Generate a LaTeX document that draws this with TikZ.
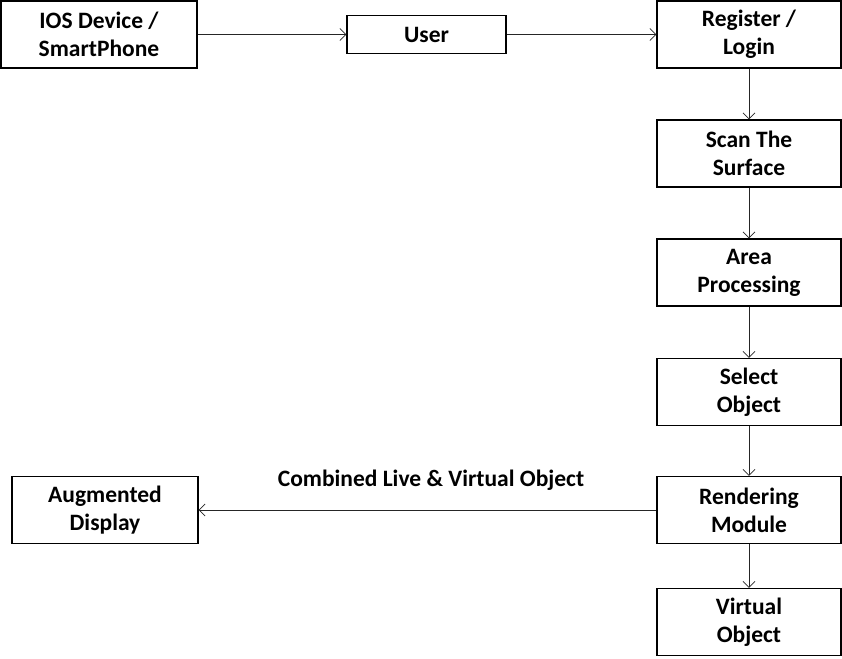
\documentclass[tikz,border=0pt]{standalone}
\usepackage{fontspec}
\setmainfont{Carlito}
\usetikzlibrary{arrows.meta}
\tikzset{
  box/.style={draw=black, line width=1.2pt, inner sep=0pt, align=center,
    font=\bfseries\fontsize{23.5}{28}\selectfont},
  conn/.style={draw=black!85, line width=0.8pt, -{Straight Barb[length=6pt,width=12pt]}},
  lbl/.style={font=\bfseries\fontsize{23.5}{28}\selectfont}
}
\begin{document}
\begin{tikzpicture}[x=1pt,y=-1pt]
\useasboundingbox (0,0) rectangle (842,658);
\node[box, minimum width=196pt, minimum height=67pt] (ios) at (99,34.5) {IOS Device /\\SmartPhone};
\node[box, minimum width=159pt, minimum height=38pt] (user) at (426.5,34.5) {User};
\node[box, minimum width=184pt, minimum height=67pt] (reg) at (749,34.5) {Register /\\Login};
\node[box, minimum width=184pt, minimum height=67pt] (scan) at (749,153.5) {Scan The\\Surface};
\node[box, minimum width=184pt, minimum height=67pt] (area) at (749,272.5) {Area\\Processing};
\node[box, minimum width=184pt, minimum height=67pt] (sel) at (749,392) {Select\\Object};
\node[box, minimum width=184pt, minimum height=67pt] (rend) at (749,510) {Rendering\\Module};
\node[box, minimum width=184pt, minimum height=67pt] (virt) at (749,622) {Virtual\\Object};
\node[box, minimum width=186pt, minimum height=67pt] (aug) at (105,510) {Augmented\\Display};
\node[lbl] (cl) at (431,480) {Combined Live \& Virtual Object};
\draw[conn] (ios.east) -- (user.west);
\draw[conn] (user.east) -- (reg.west);
\draw[conn] (reg.south) -- (scan.north);
\draw[conn] (scan.south) -- (area.north);
\draw[conn] (area.south) -- (sel.north);
\draw[conn] (sel.south) -- (rend.north);
\draw[conn] (rend.south) -- (virt.north);
\draw[conn] (rend.west) -- (aug.east);
\end{tikzpicture}
\end{document}
